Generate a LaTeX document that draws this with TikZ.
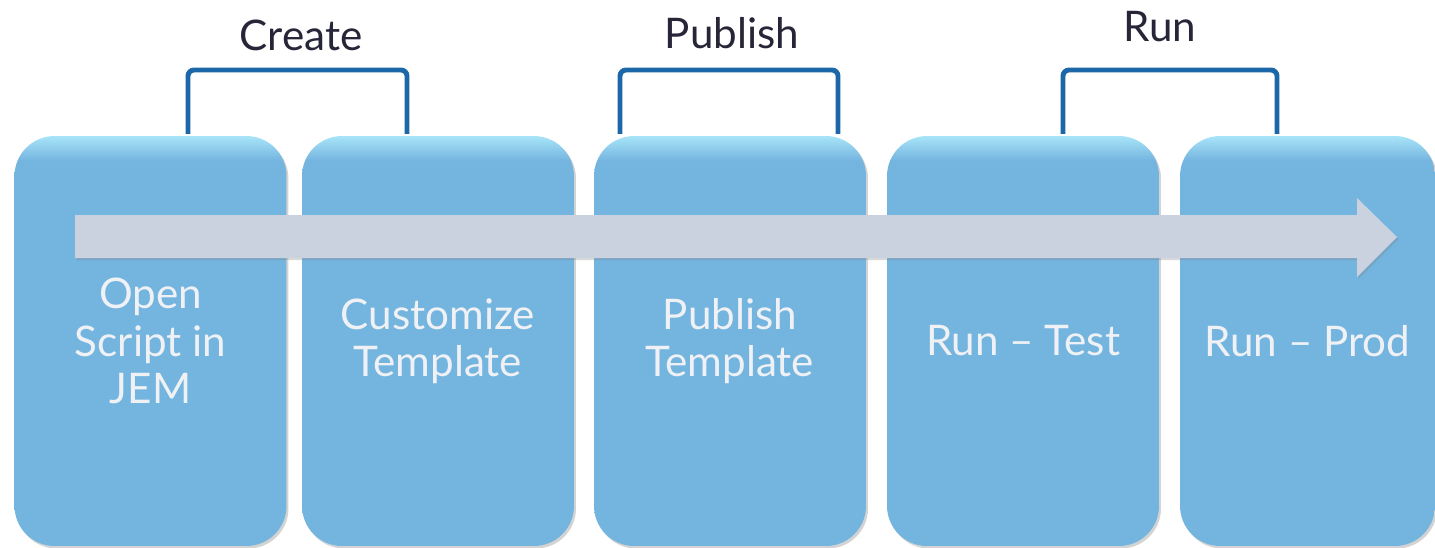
\documentclass[tikz,border=0pt]{standalone}
\usepackage{fontspec}
\setmainfont{Lato}
\usetikzlibrary{shadows}
\definecolor{boxblue}{HTML}{74B5E0}
\definecolor{boxtop}{HTML}{A8E4F8}
\definecolor{arrowgrey}{HTML}{CAD2E0}
\definecolor{bracketblue}{HTML}{1B67A8}
\definecolor{labeldark}{HTML}{262638}
\definecolor{boxtext}{HTML}{EFF1F4}
\pgfdeclareverticalshading{boxshade}{100bp}{color(0bp)=(boxblue); color(25bp)=(boxblue);
    color(72bp)=(boxblue); color(75bp)=(boxtop); color(100bp)=(boxtop)}

\tikzset{
    stepbox/.style={minimum width=5.44cm, minimum height=8.2cm, rounded corners=0.8cm,
        shading=boxshade,
        drop shadow={opacity=0.35, shadow xshift=0.04cm, shadow yshift=-0.05cm},
        text=boxtext, align=center, font=\fontsize{24}{27}\selectfont},
    phase/.style={text=labeldark, font=\fontsize{24}{27}\selectfont},
    bracket/.style={draw=bracketblue, line width=2.8pt, rounded corners=0.12cm}
}

\begin{document}
\begin{tikzpicture}[x=0.02cm, y=-0.02cm]
    \useasboundingbox (0,0) rectangle (1435,547);

    \node[stepbox] (open) at (150.5,341) {Open\\Script in\\JEM};
    \node[stepbox] (cust) at (438,341) {Customize\\Template};
    \node[stepbox] (pub) at (730,341) {Publish\\Template};
    \node[stepbox] (test) at (1023,341) {Run -- Test};
    \node[stepbox, minimum width=5.1cm] (prod) at (1307.5,341) {Run -- Prod};

    % big arrow across all steps
    \fill[arrowgrey, drop shadow={opacity=0.3, shadow xshift=0.03cm, shadow yshift=-0.04cm}]
        (75,215) -- (1357,215) -- (1357,198) -- (1397,237) -- (1357,277) -- (1357,258) -- (75,258) -- cycle;

    \node[phase] (create) at (301,35) {Create};
    \node[phase] (publish) at (732,33) {Publish};
    \node[phase] (run) at (1160,27) {Run};

    \draw[bracket] (188,134) -- (188,70) -- (407,70) -- (407,134);
    \draw[bracket] (620,134) -- (620,70) -- (838,70) -- (838,134);
    \draw[bracket] (1063,134) -- (1063,70) -- (1277,70) -- (1277,134);
\end{tikzpicture}
\end{document}
